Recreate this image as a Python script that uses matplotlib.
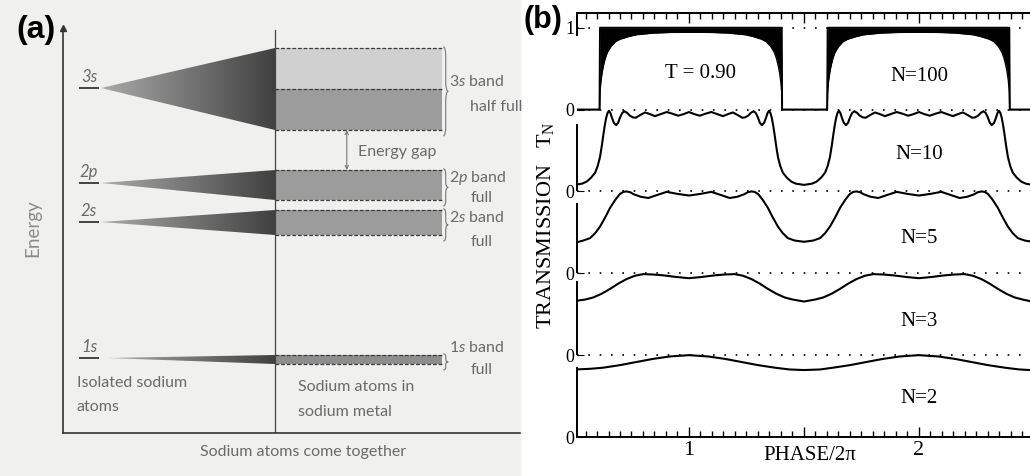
import matplotlib
matplotlib.use("Agg")
import matplotlib.pyplot as plt
import numpy as np
from matplotlib.colors import LinearSegmentedColormap
from matplotlib.patches import Polygon, Rectangle, PathPatch
from matplotlib.path import Path
from matplotlib.ticker import MultipleLocator, FuncFormatter

plt.rcParams["mathtext.fontset"] = "custom"
plt.rcParams["mathtext.rm"] = "Liberation Serif"
plt.rcParams["mathtext.it"] = "Lato:italic"

# ---------------- (a) sodium energy levels / bands (arbitrary energy units) ----
orbitals = ["1s", "2s", "2p", "3s"]
level_energy = [18.75, 52.75, 62.5, 86.25]
band_low = [17.25, 49.5, 58.25, 75.75]
band_high = [19.5, 55.75, 65.75, 96.25]
band_note = ["full", "full", "full", "half full"]

# ---------------- (b) transmission vs phase, T = 0.90 ----------------------
n100_phase = [0.513, 0.611, 0.613, 0.617, 0.622, 0.628, 0.636, 0.645, 0.660, 0.680,
              0.700, 0.740, 0.772, 0.845, 0.920, 1.008, 1.096, 1.171, 1.244, 1.276,
              1.316, 1.336, 1.356, 1.371, 1.380, 1.388, 1.394, 1.399, 1.403, 1.405,
              1.601, 1.603, 1.607, 1.612, 1.618, 1.626, 1.635, 1.650, 1.670, 1.690,
              1.730, 1.762, 1.835, 1.910, 1.998, 2.086, 2.161, 2.234, 2.266, 2.306,
              2.326, 2.346, 2.361, 2.370, 2.378, 2.384, 2.389, 2.393, 2.395, 2.483]
n100_low = [0, 0, 0.22, 0.35, 0.45, 0.54, 0.63, 0.70, 0.77, 0.83,
            0.86, 0.895, 0.915, 0.935, 0.943, 0.945, 0.943, 0.935, 0.915, 0.895,
            0.86, 0.83, 0.77, 0.70, 0.63, 0.54, 0.45, 0.35, 0.22, 0,
            0, 0.22, 0.35, 0.45, 0.54, 0.63, 0.70, 0.77, 0.83, 0.86,
            0.895, 0.915, 0.935, 0.943, 0.945, 0.943, 0.935, 0.915, 0.895, 0.86,
            0.83, 0.77, 0.70, 0.63, 0.54, 0.45, 0.35, 0.22, 0, 0]
n100_high = [0, 0, 1, 1, 1, 1, 1, 1, 1, 1,
             1, 1, 1, 1, 1, 1, 1, 1, 1, 1,
             1, 1, 1, 1, 1, 1, 1, 1, 1, 0,
             0, 1, 1, 1, 1, 1, 1, 1, 1, 1,
             1, 1, 1, 1, 1, 1, 1, 1, 1, 1,
             1, 1, 1, 1, 1, 1, 1, 1, 0, 0]

n10_phase = [0.513, 0.535, 0.555, 0.575, 0.592, 0.603, 0.613, 0.621, 0.628, 0.634,
             0.640, 0.646, 0.652, 0.658, 0.665, 0.673, 0.683, 0.692, 0.701, 0.710,
             0.719, 0.731, 0.743, 0.756, 0.768, 0.789, 0.809, 0.830, 0.852, 0.878,
             0.903, 0.928, 0.953, 0.977, 1.000, 1.023, 1.047, 1.072, 1.097, 1.122,
             1.148, 1.170, 1.191, 1.211, 1.232, 1.244, 1.257, 1.269, 1.281, 1.290,
             1.299, 1.308, 1.317, 1.327, 1.335, 1.342, 1.348, 1.354, 1.360, 1.366,
             1.372, 1.379, 1.387, 1.397, 1.408, 1.425, 1.445, 1.465, 1.500,
             1.535, 1.555, 1.575, 1.592, 1.603, 1.613, 1.621, 1.628, 1.634,
             1.640, 1.646, 1.652, 1.658, 1.665, 1.673, 1.683, 1.692, 1.701, 1.710,
             1.719, 1.731, 1.743, 1.756, 1.768, 1.789, 1.809, 1.830, 1.852, 1.878,
             1.903, 1.928, 1.953, 1.977, 2.000, 2.023, 2.047, 2.072, 2.097, 2.122,
             2.148, 2.170, 2.191, 2.211, 2.232, 2.244, 2.257, 2.269, 2.281, 2.290,
             2.299, 2.308, 2.317, 2.327, 2.335, 2.342, 2.348, 2.354, 2.360, 2.366,
             2.372, 2.379, 2.387, 2.397, 2.408, 2.425, 2.445, 2.465, 2.483]
n10_t = [0.085, 0.095, 0.12, 0.17, 0.23, 0.31, 0.42, 0.56, 0.70, 0.81,
         0.90, 0.96, 0.985, 0.96, 0.90, 0.84, 0.81, 0.84, 0.91, 0.96,
         0.98, 0.96, 0.925, 0.905, 0.90, 0.935, 0.965, 0.945, 0.92, 0.945,
         0.97, 0.95, 0.925, 0.945, 0.97, 0.945, 0.925, 0.95, 0.97, 0.945,
         0.92, 0.945, 0.965, 0.935, 0.90, 0.905, 0.925, 0.96, 0.98, 0.96,
         0.91, 0.84, 0.81, 0.84, 0.90, 0.96, 0.985, 0.96, 0.90, 0.81,
         0.70, 0.56, 0.42, 0.31, 0.23, 0.17, 0.12, 0.095, 0.08,
         0.095, 0.12, 0.17, 0.23, 0.31, 0.42, 0.56, 0.70, 0.81,
         0.90, 0.96, 0.985, 0.96, 0.90, 0.84, 0.81, 0.84, 0.91, 0.96,
         0.98, 0.96, 0.925, 0.905, 0.90, 0.935, 0.965, 0.945, 0.92, 0.945,
         0.97, 0.95, 0.925, 0.945, 0.97, 0.945, 0.925, 0.95, 0.97, 0.945,
         0.92, 0.945, 0.965, 0.935, 0.90, 0.905, 0.925, 0.96, 0.98, 0.96,
         0.91, 0.84, 0.81, 0.84, 0.90, 0.96, 0.985, 0.96, 0.90, 0.81,
         0.70, 0.56, 0.42, 0.31, 0.23, 0.17, 0.12, 0.095, 0.085]

n5_phase = [0.513, 0.540, 0.570, 0.592, 0.613, 0.635, 0.657, 0.680, 0.700, 0.715,
            0.729, 0.745, 0.760, 0.790, 0.823, 0.860, 0.903, 0.950, 1.000, 1.050,
            1.097, 1.140, 1.177, 1.210, 1.240, 1.255, 1.271, 1.285, 1.300, 1.320,
            1.343, 1.365, 1.387, 1.408, 1.430, 1.460, 1.500,
            1.540, 1.570, 1.592, 1.613, 1.635, 1.657, 1.680, 1.700, 1.715,
            1.729, 1.745, 1.760, 1.790, 1.823, 1.860, 1.903, 1.950, 2.000, 2.050,
            2.097, 2.140, 2.177, 2.210, 2.240, 2.255, 2.271, 2.285, 2.300, 2.320,
            2.343, 2.365, 2.387, 2.408, 2.430, 2.460, 2.483]
n5_t = [0.38, 0.40, 0.43, 0.49, 0.57, 0.68, 0.80, 0.90, 0.97, 0.995,
        1.0, 0.99, 0.965, 0.935, 0.92, 0.955, 0.995, 0.97, 0.95, 0.97,
        0.995, 0.955, 0.92, 0.935, 0.965, 0.99, 1.0, 0.995, 0.97, 0.90,
        0.80, 0.68, 0.57, 0.49, 0.43, 0.40, 0.385,
        0.40, 0.43, 0.49, 0.57, 0.68, 0.80, 0.90, 0.97, 0.995,
        1.0, 0.99, 0.965, 0.935, 0.92, 0.955, 0.995, 0.97, 0.95, 0.97,
        0.995, 0.955, 0.92, 0.935, 0.965, 0.99, 1.0, 0.995, 0.97, 0.90,
        0.80, 0.68, 0.57, 0.49, 0.43, 0.40, 0.39]

n3_phase = [0.513, 0.550, 0.584, 0.620, 0.657, 0.693, 0.729, 0.765, 0.801, 0.845,
            0.888, 0.945, 1.000, 1.055, 1.112, 1.155, 1.199, 1.235, 1.271, 1.307,
            1.343, 1.380, 1.416, 1.450, 1.500,
            1.550, 1.584, 1.620, 1.657, 1.693, 1.729, 1.765, 1.801, 1.845,
            1.888, 1.945, 2.000, 2.055, 2.112, 2.155, 2.199, 2.235, 2.271, 2.307,
            2.343, 2.380, 2.416, 2.450, 2.483]
n3_t = [0.665, 0.68, 0.705, 0.75, 0.81, 0.875, 0.93, 0.97, 0.99, 0.985,
        0.975, 0.955, 0.94, 0.955, 0.975, 0.985, 0.99, 0.97, 0.93, 0.875,
        0.81, 0.75, 0.705, 0.68, 0.655,
        0.68, 0.705, 0.75, 0.81, 0.875, 0.93, 0.97, 0.99, 0.985,
        0.975, 0.955, 0.94, 0.955, 0.975, 0.985, 0.99, 0.97, 0.93, 0.875,
        0.81, 0.75, 0.705, 0.68, 0.66]

n2_phase = [0.513, 0.570, 0.627, 0.700, 0.773, 0.845, 0.917, 1.000, 1.083, 1.155,
            1.227, 1.300, 1.373, 1.437, 1.500,
            1.570, 1.627, 1.700, 1.773, 1.845, 1.917, 2.000, 2.083, 2.155,
            2.227, 2.300, 2.373, 2.437, 2.483]
n2_t = [0.826, 0.833, 0.847, 0.878, 0.917, 0.955, 0.984, 1.0, 0.984, 0.955,
        0.917, 0.878, 0.847, 0.825, 0.818,
        0.825, 0.847, 0.878, 0.917, 0.955, 0.984, 1.0, 0.984, 0.955,
        0.917, 0.878, 0.847, 0.825, 0.818]

W, H = 1030, 476
fig = plt.figure(figsize=(W / 100, H / 100), dpi=100)

# scanned-page background behind panel (a)
fig.patches.append(Rectangle((0, 0), 520 / W, 1, transform=fig.transFigure,
                             color="#f0f0ee", zorder=-10))

# ======================= panel (a) =======================
TXT = "#6a6a6a"
FONT_A = "Lato"
X_LEVEL = (3.5, 7.9)
X_APEX = 8.3
X_DIV = 46.4
X_END = 82.9
X_BRACE = 83.2
X_LABEL = 84.5
X_NOTE = 89.1
label_y = [21.5, 54.0, 63.75, 87.75]
note_y = [15.75, 47.75, 58.75, 81.5]

axa = fig.add_axes([63 / W, (H - 433) / H, (520 - 63) / W, (433 - 28) / H])
axa.set_facecolor("none")
for s in ["top", "right"]:
    axa.spines[s].set_visible(False)
for s in ["left", "bottom"]:
    axa.spines[s].set_color("#333333")
    axa.spines[s].set_linewidth(1.2)
axa.set_xticks([])
axa.set_yticks([])
axa.plot([0], [1], marker="^", ms=5, color="#333333", transform=axa.transAxes,
         clip_on=False)

tri_cmap = LinearSegmentedColormap.from_list("tri", ["#aaaaaa", "#404040"])
grad = np.linspace(0, 1, 256).reshape(1, -1)


def brace(ax, x, y_top, y_bot, w, color):
    ym = (y_top + y_bot) / 2
    d = min((y_top - y_bot) * 0.15, 2.5)
    xm = x + w * 0.5
    verts = [(x, y_top), (xm, y_top), (xm, y_top - d),
             (xm, ym + d), (xm, ym), (x + w, ym),
             (xm, ym), (xm, ym - d),
             (xm, y_bot + d), (xm, y_bot), (x, y_bot)]
    codes = [Path.MOVETO, Path.CURVE3, Path.CURVE3,
             Path.LINETO, Path.CURVE3, Path.CURVE3,
             Path.CURVE3, Path.CURVE3,
             Path.LINETO, Path.CURVE3, Path.CURVE3]
    ax.add_patch(PathPatch(Path(verts, codes), fc="none", ec=color, lw=0.8))


for i, name in enumerate(orbitals):
    lvl, lo, hi = level_energy[i], band_low[i], band_high[i]
    apex = X_APEX if name != "1s" else X_APEX + 1.5

    # level line + label
    axa.hlines(lvl, X_LEVEL[0], X_LEVEL[1], color="#444444", lw=1.4)
    axa.annotate(name, (sum(X_LEVEL) / 2, lvl), xytext=(0, 2),
                 textcoords="offset points", ha="center", va="bottom",
                 style="italic", fontsize=12, color=TXT, family=FONT_A)

    # spreading of the level into a band
    tri = Polygon([(apex, lvl), (X_DIV, hi), (X_DIV, lo)], closed=True,
                  fc="none", ec="none")
    axa.add_patch(tri)
    im = axa.imshow(grad, extent=[apex, X_DIV, lo, hi], cmap=tri_cmap,
                    aspect="auto", origin="lower", interpolation="bilinear")
    im.set_clip_path(tri)

    # band in the metal
    if band_note[i] == "half full":
        mid = (lo + hi) / 2
        axa.add_patch(Rectangle((X_DIV, lo), X_END - X_DIV, mid - lo,
                                fc="#9c9c9c", ec="none"))
        axa.add_patch(Rectangle((X_DIV, mid), X_END - X_DIV, hi - mid,
                                fc="#d0d0d0", ec="none"))
        edges = [lo, mid, hi]
    else:
        axa.add_patch(Rectangle((X_DIV, lo), X_END - X_DIV, hi - lo,
                                fc="#9c9c9c" if name != "1s" else "#8e8e8e",
                                ec="none"))
        edges = [lo, hi]
    axa.hlines(edges, X_DIV, X_END, colors="#3a3a3a", linestyles=(0, (3, 1.5)),
               lw=0.9)

    brace(axa, X_BRACE, hi + 0.3, lo - 1.5, 1.1, "#777777")
    axa.text(X_LABEL, label_y[i], f"{name[0]}$\\it{{{name[1]}}}$ band",
             ha="left", va="center", fontsize=11.5, color=TXT, family=FONT_A)
    axa.text(X_NOTE, note_y[i], band_note[i], ha="left", va="center",
             fontsize=11.5, color=TXT, family=FONT_A)

axa.plot([X_DIV, X_DIV], [0, 100.75], color="#444444", lw=0.9)

# energy gap between 2p and 3s bands
axa.annotate("", xy=(62.1, band_high[2]), xytext=(62.1, band_low[3]),
             arrowprops=dict(arrowstyle="<->", color="#777777", lw=0.8,
                             shrinkA=0, shrinkB=0, mutation_scale=6))
axa.text(64.5, 70.25, "Energy gap", ha="left", va="center", fontsize=11.5,
         color=TXT, family=FONT_A)

axa.text(3.06, 12.5, "Isolated sodium", ha="left", va="center", fontsize=11.5,
         color=TXT, family=FONT_A)
axa.text(3.06, 6.5, "atoms", ha="left", va="center", fontsize=11.5,
         color=TXT, family=FONT_A)
axa.text(51.4, 11.5, "Sodium atoms in", ha="left", va="center", fontsize=11.5,
         color=TXT, family=FONT_A)
axa.text(51.4, 5.25, "sodium metal", ha="left", va="center", fontsize=11.5,
         color=TXT, family=FONT_A)

axa.set_xlim(0, 100)
axa.set_ylim(0, 101.25)

fig.text(303 / W, 1 - 452 / H, "Sodium atoms come together", ha="center",
         va="center", fontsize=11.5, color=TXT, family=FONT_A)
fig.text(33 / W, 1 - 228 / H, "Energy", rotation=90, ha="center", va="center",
         fontsize=13.5, color="#8c8c8c", family=FONT_A)
fig.text(36 / W, 1 - 30 / H, "(a)", ha="center", va="center", fontsize=23,
         fontweight="bold", family="Liberation Sans")

# ======================= panel (b) =======================
SERIF = "Liberation Serif"
axb = fig.add_axes([577 / W, (H - 437) / H, (W - 577) / W, (437 - 13) / H])
axb.set_xlim(0.513, 2.483)
axb.set_ylim(0, 5.18)

# dotted unit-transmission guides of every stacked trace
for k in range(1, 6):
    axb.axhline(k, ls=(0, (1, 5.8)), lw=1.2, color="black", zorder=1)

curves = [(n2_phase, n2_t, 0), (n3_phase, n3_t, 1), (n5_phase, n5_t, 2),
          (n10_phase, n10_t, 3)]
for ph, t, off in curves:
    axb.plot(ph, np.array(t) + off, color="black", lw=1.5, zorder=3)

low100 = np.array(n100_low) + 4
high100 = np.array(n100_high) + 4
axb.fill_between(n100_phase, low100, high100, color="black", lw=0, zorder=2)
axb.plot(n100_phase, high100, color="black", lw=1.4, zorder=3)
axb.plot(n100_phase, low100, color="black", lw=1.0, zorder=3)

# broken left axis: a short segment for each stacked trace
x0 = 0.513
seg_lo = [0, 1, 2, 3, 4.9]
seg_hi = [0.85, 1.91, 2.86, 3.82, 5.18]
axb.vlines([x0] * len(seg_lo), seg_lo, seg_hi, color="black", lw=1.4,
           zorder=4, clip_on=False)

for s in ["left", "right"]:
    axb.spines[s].set_visible(False)
for s in ["top", "bottom"]:
    axb.spines[s].set_linewidth(1.4)

axb.xaxis.set_major_locator(MultipleLocator(0.5))
axb.xaxis.set_minor_locator(MultipleLocator(0.05))
axb.xaxis.set_major_formatter(
    FuncFormatter(lambda v, p: f"{v:.0f}" if abs(v - round(v)) < 1e-6 else ""))
axb.tick_params(axis="x", which="both", direction="in", top=True, width=1.0)
axb.tick_params(axis="x", which="major", length=7, labelsize=16, pad=3,
                labelfontfamily=SERIF)
axb.tick_params(axis="x", which="minor", length=4)

axb.set_yticks([0, 1, 2, 3, 4, 5])
axb.set_yticklabels(["0", "0", "0", "0", "0", "1"])
axb.tick_params(axis="y", direction="in", length=5, pad=2, labelsize=13,
                labelfontfamily=SERIF)

axb.text(1.05, 4.44, "T = 0.90", ha="center", va="center", fontsize=15,
         family=SERIF)
for lab, yy in [("N=100", 4.40), ("N=10", 3.45), ("N=5", 2.42), ("N=3", 1.41),
                ("N=2", 0.47)]:
    axb.text(2.0, yy, lab, ha="center", va="center", fontsize=15, family=SERIF)

fig.text(545 / W, 1 - 225 / H, "TRANSMISSION   $\\mathrm{T_N}$", rotation=90,
         ha="center", va="center", fontsize=16, family=SERIF)
fig.text(810 / W, 1 - 455 / H, "PHASE/2\u03c0", ha="center", va="center",
         fontsize=15, family=SERIF)
fig.text(543 / W, 1 - 20 / H, "(b)", ha="center", va="center", fontsize=22,
         fontweight="bold", family="Liberation Sans")

fig.savefig("out.png", dpi=100)
